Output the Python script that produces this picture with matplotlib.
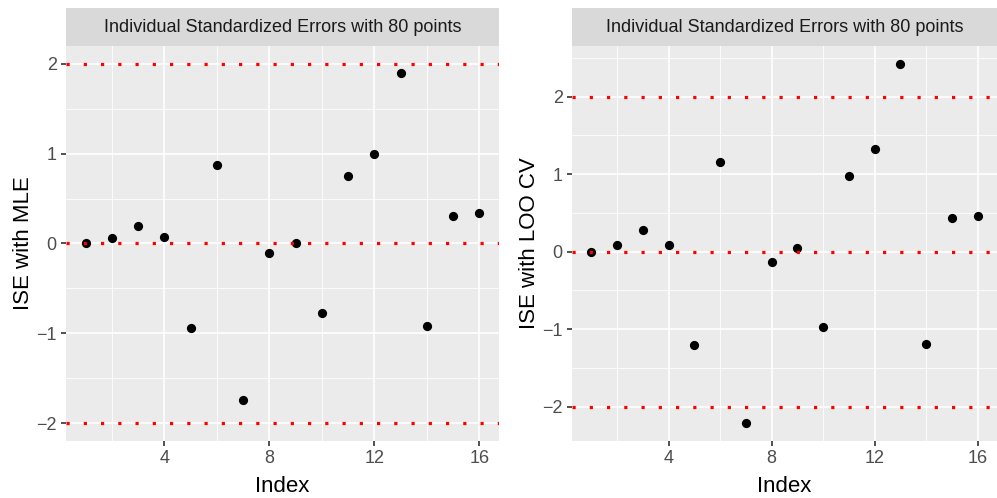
import matplotlib.pyplot as plt
import numpy as np

plt.rcParams['font.family'] = ['Liberation Sans', 'DejaVu Sans']

idx = np.arange(1, 17)
ise_mle = [0.0, 0.06, 0.20, 0.07, -0.94, 0.87, -1.74, -0.11,
           0.01, -0.77, 0.75, 1.00, 1.90, -0.92, 0.31, 0.34]
ise_loo = [0.0, 0.08, 0.28, 0.09, -1.21, 1.15, -2.21, -0.14,
           0.05, -0.97, 0.97, 1.32, 2.42, -1.19, 0.43, 0.46]
ref_lines = [-2, 0, 2]
strip_title = 'Individual Standardized Errors with 80 points'

W, H = 997, 498
fig = plt.figure(figsize=(W / 100, H / 100), dpi=100)


def panel(x0, x1, y, ylabel, ylim, yminor):
    top, bot = 46, 441
    ax = fig.add_axes([x0 / W, (H - bot) / H, (x1 - x0) / W, (bot - top) / H])
    ax.set_facecolor('#EBEBEB')
    for s in ax.spines.values():
        s.set_visible(False)
    ax.set_xlim(0.25, 16.75)
    ax.set_ylim(*ylim)
    ax.set_xticks([4, 8, 12, 16])
    ax.set_yticks([-2, -1, 0, 1, 2])
    ax.set_yticklabels(['\u22122', '\u22121', '0', '1', '2'])
    ax.set_xticks([2, 6, 10, 14], minor=True)
    ax.set_yticks(yminor, minor=True)
    ax.grid(which='major', color='white', lw=1.2)
    ax.grid(which='minor', color='white', lw=0.6)
    ax.set_axisbelow(True)
    ax.tick_params(which='major', length=3.6, width=1.2, color='#333333',
                   labelcolor='#4D4D4D', labelsize=13, pad=3)
    ax.tick_params(which='minor', length=0)
    ax.scatter(idx, y, s=44, color='black', zorder=3, linewidths=0)
    for r in ref_lines:
        ax.axhline(r, color='red', lw=2.3, linestyle=(0, (1, 4.4)),
                   dash_capstyle='butt', zorder=4)
    ax.set_xlabel('Index', fontsize=16, labelpad=6)
    ax.set_ylabel(ylabel, fontsize=16, labelpad=1.5)
    st = fig.add_axes([x0 / W, (H - top) / H, (x1 - x0) / W, 38 / H])
    st.set_facecolor('#D9D9D9')
    st.set_xticks([])
    st.set_yticks([])
    for s in st.spines.values():
        s.set_visible(False)
    st.text(0.5, 0.5, strip_title, ha='center', va='center',
            fontsize=13, color='#1A1A1A', transform=st.transAxes)
    return ax


panel(66, 499, ise_mle, 'ISE with MLE', (-2.2, 2.2), [-1.5, -0.5, 0.5, 1.5])
panel(572, 997, ise_loo, 'ISE with LOO CV', (-2.442, 2.652),
      [-1.5, -0.5, 0.5, 1.5, 2.5])

fig.savefig('out.png', dpi=100)
